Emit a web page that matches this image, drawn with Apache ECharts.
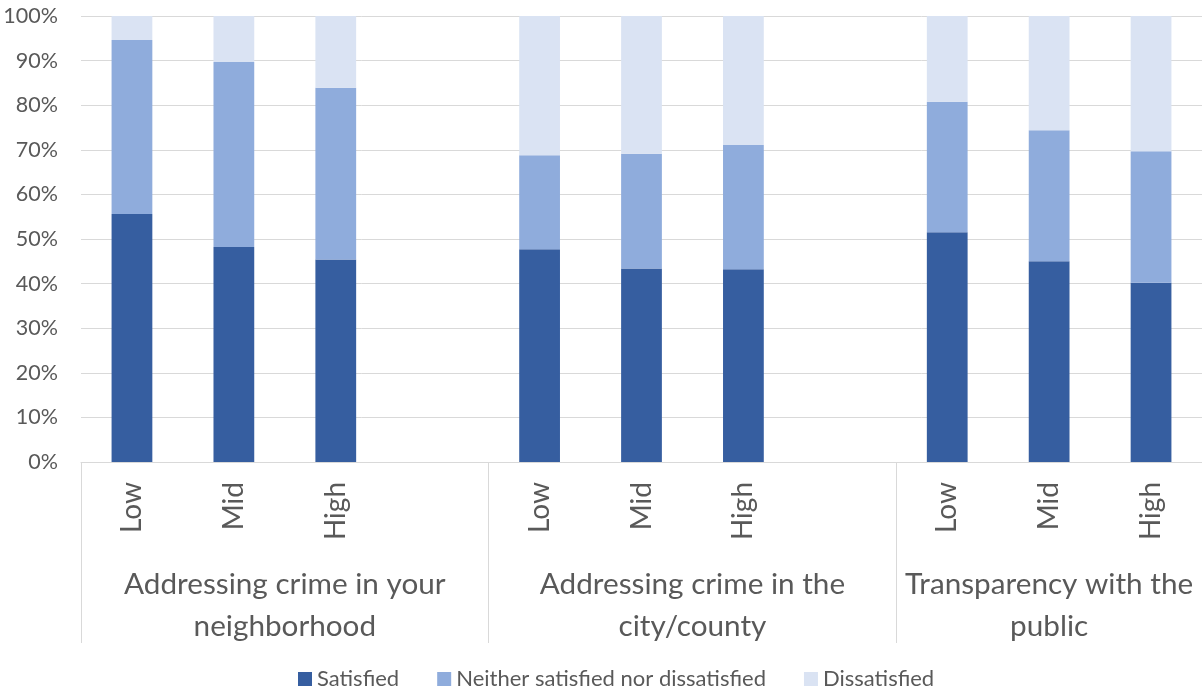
<!DOCTYPE html>
<html>
<head>
<meta charset="utf-8">
<script src="https://cdn.jsdelivr.net/npm/echarts@6/dist/echarts.min.js"></script>
<style>
html,body{margin:0;padding:0;background:#fff;}
#chart{width:1202px;height:691px;}
</style>
</head>
<body>
<div id="chart"></div>
<script>
// Categories (blank slots separate the groups)
const levels = ['Low', 'Mid', 'High', '', 'Low', 'Mid', 'High', '', 'Low', 'Mid', 'High'];
const groupNames = ['Addressing crime in your\nneighborhood', 'Addressing crime in the\ncity/county', 'Transparency with the\npublic'];
const groupCenters = [2, 6, 9.5];
const groupBounds = [0, 4, 8];

// Series values (percent)
const satisfied    = [55.6, 48.2, 45.4, null, 47.7, 43.4, 43.2, null, 51.5, 45.0, 40.2];
const neither      = [39.0, 41.5, 38.5, null, 21.1, 25.7, 27.9, null, 29.3, 29.4, 29.5];
const dissatisfied = [5.4, 10.3, 16.1, null, 31.2, 30.9, 28.9, null, 19.2, 25.6, 30.3];

const FONT = 'Lato';
const TXT = '#595959';
const GRIDC = '#d9d9d9';

const chart = echarts.init(document.getElementById('chart'));
chart.setOption({
  animation: false,
  textStyle: { fontFamily: FONT, color: TXT },
  grid: { left: 81, width: 1125, top: 16, height: 446 },
  legend: {
    left: 298, top: 668, padding: 0,
    icon: 'rect', itemWidth: 14, itemHeight: 14, itemGap: 38,
    textStyle: { fontFamily: FONT, fontSize: 22, color: TXT },
    data: ['Satisfied', 'Neither satisfied nor dissatisfied', 'Dissatisfied']
  },
  xAxis: [
    {
      type: 'category',
      data: levels,
      boundaryGap: true,
      axisLine: { show: true, lineStyle: { color: GRIDC, width: 1 } },
      axisTick: { show: false },
      axisLabel: { rotate: 90, margin: 20, fontSize: 28, color: TXT, fontFamily: FONT, interval: 0 }
    },
    {
      type: 'value',
      min: 0, max: 11,
      position: 'bottom',
      axisLine: { show: false },
      splitLine: { show: false },
      axisTick: { show: true, customValues: groupBounds, length: 181, lineStyle: { color: GRIDC, width: 1 } },
      axisLabel: {
        customValues: groupCenters,
        margin: 101,
        fontSize: 29.7,
        lineHeight: 42,
        color: TXT,
        fontFamily: FONT,
        align: 'center',
        formatter: function (v) {
          const i = groupCenters.indexOf(v);
          return i >= 0 ? groupNames[i] : '';
        }
      }
    }
  ],
  yAxis: {
    type: 'value',
    min: 0, max: 100, interval: 10,
    axisLine: { show: false },
    axisTick: { show: false },
    splitLine: { show: true, lineStyle: { color: GRIDC, width: 1 } },
    axisLabel: { formatter: '{value}%', fontSize: 21.5, margin: 23, color: TXT, fontFamily: FONT }
  },
  series: [
    { name: 'Satisfied', type: 'bar', stack: 's', barWidth: '40%', data: satisfied, itemStyle: { color: '#365EA0' } },
    { name: 'Neither satisfied nor dissatisfied', type: 'bar', stack: 's', barWidth: '40%', data: neither, itemStyle: { color: '#8FACDC' } },
    { name: 'Dissatisfied', type: 'bar', stack: 's', barWidth: '40%', data: dissatisfied, itemStyle: { color: '#DAE3F3' } }
  ]
});
</script>
</body>
</html>
